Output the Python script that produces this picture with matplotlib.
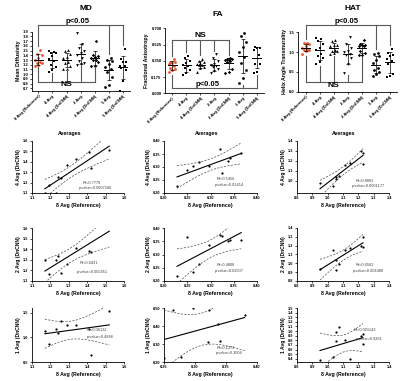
import numpy as np
import matplotlib
matplotlib.use('Agg')
import matplotlib.pyplot as plt

plt.rcParams['font.family'] = ['Liberation Sans', 'DejaVu Sans']

groups = ['8 Avg (Reference)', '4 Avg', '4 Avg (DnCNN)', '2 Avg', '2 Avg (DnCNN)', '1 Avg', '1 Avg (DnCNN)']

# ---- MD ----
md_ref = [1.17, 1.19, 1.23, 1.24, 1.26, 1.29, 1.34, 1.41, 1.42, 1.52]
md_4 = [1.50, 1.48, 1.45, 1.44, 1.38, 1.32, 1.27, 1.20, 1.15, 1.08, 1.05]
md_4dn = [1.10, 1.18, 1.10, 1.25, 1.24, 1.37, 1.43, 1.49, 1.34, 1.51]
md_2 = [1.87, 1.64, 1.56, 1.50, 1.45, 1.40, 1.35, 1.28, 1.24, 1.20, 1.22]
md_2dn = [1.30, 1.17, 1.30, 1.34, 1.18, 1.26, 1.41, 1.38, 1.37, 1.70]
md_1 = [1.35, 1.30, 1.28, 1.22, 1.15, 1.10, 1.05, 0.95, 0.78, 0.72]
md_1dn = [1.13, 0.86, 1.18, 1.09, 1.33, 1.25, 1.26, 1.18, 0.65, 1.53]

# ---- FA ----
fa_ref = [0.228, 0.250, 0.263, 0.276, 0.297, 0.320, 0.325, 0.338, 0.342, 0.366]
fa_4 = [0.40, 0.38, 0.35, 0.33, 0.31, 0.29, 0.27, 0.25, 0.22, 0.20]
fa_4dn = [0.225, 0.288, 0.303, 0.319, 0.304, 0.369, 0.275, 0.323, 0.335, 0.353]
fa_2 = [0.42, 0.38, 0.35, 0.32, 0.30, 0.29, 0.28, 0.26, 0.24, 0.22]
fa_2dn = [0.219, 0.366, 0.234, 0.263, 0.334, 0.375, 0.371, 0.350, 0.354, 0.356]
fa_1 = [0.646, 0.617, 0.556, 0.50, 0.45, 0.395, 0.323, 0.25, 0.16, 0.115]
fa_x_1dn = [0.250, 0.264, 0.278, 0.297, 0.323, 0.321, 0.337, 0.341, 0.380]
fa_1dn = [0.223, 0.490, 0.228, 0.500, 0.490, 0.313, 0.410, 0.315, 0.463]

# ---- HAT ----
hat_ref = [0.95, 1.035, 1.057, 1.057, 1.074, 1.115, 1.143, 1.215, 1.23, 1.23]
hat_4 = [1.35, 1.32, 1.28, 1.20, 1.10, 1.05, 0.95, 0.90, 0.85, 0.75, 0.70]
hat_4dn = [0.98, 0.95, 1.02, 1.04, 1.05, 1.16, 1.18, 1.30, 1.285, 1.17]
hat_2 = [1.38, 1.20, 1.10, 1.02, 1.00, 0.95, 0.92, 0.85, 0.70, 0.47]
hat_2dn = [0.932, 1.148, 1.04, 0.92, 0.988, 1.152, 1.172, 1.192, 1.30, 1.18]
hat_1 = [0.98, 0.95, 0.90, 0.80, 0.72, 0.60, 0.55, 0.50, 0.45, 0.40]
hat_1dn = [0.38, 0.435, 0.97, 0.78, 1.08, 0.815, 0.385, 0.90, 0.71, 0.93]

stats = {
    'MD': [('R²=0.7779', 'p-value=0.0007346'), ('R²=0.6431', 'p-value=0.005451'), ('R²=0.06132', 'p-value=0.4898')],
    'FA': [('R²=0.5456', 'p-value=0.01414'), ('R²=0.4808', 'p-value=0.02507'), ('R²=0.1373', 'p-value=0.3004')],
    'HAT': [('R²=0.8881', 'p-value=0.0001177'), ('R²=0.6562', 'p-value=0.004488'), ('R²=0.001143', 'p-value=0.9261')],
}

W, H = 400, 381
fig = plt.figure(figsize=(W / 100, H / 100), dpi=100)


def box(l, t, r, b):
    return [l / W, 1 - b / H, (r - l) / W, (b - t) / H]


def style(ax, fs=3.0):
    for s in ['top', 'right']:
        ax.spines[s].set_visible(False)
    for s in ['left', 'bottom']:
        ax.spines[s].set_linewidth(0.6)
    ax.tick_params(length=1.5, width=0.5, pad=1, labelsize=fs)
    for lab in ax.get_xticklabels() + ax.get_yticklabels():
        lab.set_fontweight('bold')


markers = ['o', 's', '^', 'v', 'D', 'o', 's']
jit = [-0.24, 0.0, 0.24, -0.12, 0.12]


def strip(ax, data, ylim, yticks, yfmt, ylabel, xlim):
    for i, vals in enumerate(data):
        vals = np.array(vals)
        order = np.argsort(vals)
        xs = np.zeros(len(vals))
        for k, idx in enumerate(order):
            xs[idx] = i + jit[k % len(jit)]
        col = '#e8502a' if i == 0 else 'black'
        ms = 2.0 if markers[i] != 'D' else 1.7
        ax.plot(xs, vals, ls='none', marker=markers[i], color=col, ms=ms, mew=0)
        m, sd = vals.mean(), vals.std(ddof=1)
        ax.plot([i - 0.32, i + 0.32], [m, m], color='black', lw=0.7)
        ax.errorbar(i, m, yerr=sd, color='black', lw=0.5, capsize=1.6, capthick=0.5)
    ax.set_xlim(*xlim)
    ax.set_ylim(*ylim)
    ax.set_yticks(yticks)
    ax.set_yticklabels([yfmt % t for t in yticks])
    ax.set_xticks(range(len(groups)))
    ax.set_xticklabels(groups, rotation=45, ha='right', rotation_mode='anchor')
    ax.set_ylabel(ylabel, fontsize=3.8, fontweight='bold', labelpad=1.5)
    style(ax, 3.0)


def bracket(ax, data, idx, y, top, gap, text, ty, tx, fs):
    # top=True: drops go down to just above each group's max
    c = '0.35'
    ax.plot([idx[0], idx[-1]], [y, y], color=c, lw=0.8, clip_on=False)
    for i in idx:
        v = np.array(data[i])
        end = v.max() + gap if top else v.min() - gap
        ax.plot([i, i], [y, end], color=c, lw=0.8, clip_on=False)
    ax.text(tx, ty, text, ha='center', va='center', fontsize=fs, fontweight='bold', clip_on=False)


# top row
md_data = [md_ref, md_4, md_4dn, md_2, md_2dn, md_1, md_1dn]
fa_data = [fa_ref, fa_4, fa_4dn, fa_2, fa_2dn, fa_1, fa_1dn]
hat_data = [hat_ref, hat_4, hat_4dn, hat_2, hat_2dn, hat_1, hat_1dn]

ax = fig.add_axes(box(32, 31.7, 130, 90.7))
strip(ax, md_data, (0.65, 1.9), np.arange(0.7, 1.91, 0.1), '%.1f', 'Mean Diffusivity', (-0.45, 6.5))
bracket(ax, md_data, [0, 5, 6], 2.04, True, 0.08, 'p<0.05', 2.11, 2.8, 5.5)
bracket(ax, md_data, [0, 1, 2, 3, 4], 0.84, False, 0.015, 'NS', 0.78, 2.0, 6)

ax = fig.add_axes(box(165, 28.3, 264, 93.3))
strip(ax, fa_data, (0, 0.7), [0, 0.175, 0.35, 0.525, 0.7], '%.3f', 'Fractional Anisotropy', (-0.5, 6.5))
bracket(ax, fa_data, [0, 1, 2, 3, 4], 0.574, True, 0.04, 'NS', 0.625, 2.0, 6)
bracket(ax, fa_data, [0, 5, 6], 0.054, False, 0.03, 'p<0.05', 0.10, 2.5, 5.5)

ax = fig.add_axes(box(298, 32.3, 397, 91.7))
strip(ax, hat_data, (0, 1.5), [0, 0.5, 1.0, 1.5], '%.1f', 'Helix Angle Transmurality', (-0.55, 6.5))
bracket(ax, hat_data, [0, 5, 6], 1.685, True, 0.1, 'p<0.05', 1.77, 2.9, 5.5)
bracket(ax, hat_data, [0, 1, 2, 3, 4], 0.253, False, 0.04, 'NS', 0.16, 2.0, 6)

fig.text(86 / W, 1 - 8 / H, 'MD', ha='center', va='center', fontsize=6, fontweight='bold')
fig.text(218 / W, 1 - 14 / H, 'FA', ha='center', va='center', fontsize=6, fontweight='bold')
fig.text(353 / W, 1 - 8 / H, 'HAT', ha='center', va='center', fontsize=6, fontweight='bold')
for x in [70, 207, 344]:
    fig.text(x / W, 1 - 134 / H, 'Averages', ha='center', va='center', fontsize=3.8, fontweight='bold')

# scatter / regression rows
tval = {7: 2.365, 8: 2.306, 9: 2.262}


def regress(ax, x, y, txt, tpos):
    x = np.array(x)
    y = np.array(y)
    n = len(x)
    b, a = np.polyfit(x, y, 1)
    res = y - (a + b * x)
    s = np.sqrt((res ** 2).sum() / (n - 2))
    sxx = ((x - x.mean()) ** 2).sum()
    xx = np.linspace(x.min(), x.max(), 60)
    yy = a + b * xx
    half = tval[n - 2] * s * np.sqrt(1 / n + (xx - x.mean()) ** 2 / sxx)
    ax.plot(x, y, 'o', color='black', ms=1.6, mew=0)
    ax.plot(xx, yy, color='black', lw=0.8)
    ax.plot(xx, yy + half, color='0.3', lw=0.5, dashes=(3, 2))
    ax.plot(xx, yy - half, color='0.3', lw=0.5, dashes=(3, 2))
    ax.text(tpos[0], tpos[1], txt[0], transform=ax.transAxes, fontsize=2.8, ha='center', va='center', color='0.25')
    ax.text(tpos[0] + 0.04, tpos[2], txt[1], transform=ax.transAxes, fontsize=2.8, ha='center', va='center', color='0.25')


cols = [(32, 124), (164, 257), (297, 389)]
rows = [(141, 193), (228, 281), (308, 362)]
ylabels = ['4 Avg (DnCNN)', '2 Avg (DnCNN)', '1 Avg (DnCNN)']

panels = {
    'MD': dict(x=[md_ref, md_ref, md_ref], y=[md_4dn, md_2dn, md_1dn],
               xlim=[(1.1, 1.6)] * 3, xt=[np.arange(1.1, 1.61, 0.1)] * 3, xf='%.1f',
               ylim=[(1.1, 1.6), (1.1, 1.6), (0.5, 1.6)],
               yt=[np.arange(1.1, 1.61, 0.1), np.arange(1.1, 1.61, 0.1), [0.5, 1.0, 1.5]], yf='%.1f',
               tpos=[(0.65, 0.2, 0.1), (0.62, 0.34, 0.17), (0.7, 0.59, 0.46)]),
    'FA': dict(x=[fa_ref, fa_ref, fa_x_1dn], y=[fa_4dn, fa_2dn, fa_1dn],
               xlim=[(0.2, 0.4), (0.2, 0.4), (0.25, 0.4)],
               xt=[np.arange(0.2, 0.41, 0.05), np.arange(0.2, 0.41, 0.05), np.arange(0.25, 0.41, 0.05)], xf='%.2f',
               ylim=[(0.2, 0.4), (0.2, 0.4), (0.2, 0.5)],
               yt=[np.arange(0.2, 0.41, 0.05), np.arange(0.2, 0.41, 0.05), np.arange(0.2, 0.51, 0.1)], yf='%.2f',
               tpos=[(0.66, 0.26, 0.15), (0.66, 0.3, 0.19), (0.66, 0.26, 0.17)]),
    'HAT': dict(x=[hat_ref, hat_ref, hat_ref], y=[hat_4dn, hat_2dn, hat_1dn],
                xlim=[(0.8, 1.4)] * 3, xt=[np.arange(0.8, 1.41, 0.1)] * 3, xf='%.1f',
                ylim=[(0.88, 1.4), (0.8, 1.4), (0.33, 1.5)],
                yt=[np.arange(1.0, 1.41, 0.1), np.arange(0.8, 1.41, 0.1), np.arange(0.4, 1.51, 0.1)], yf='%.1f',
                tpos=[(0.74, 0.23, 0.14), (0.74, 0.3, 0.18), (0.74, 0.6, 0.43)]),
}

for c, key in enumerate(['MD', 'FA', 'HAT']):
    p = panels[key]
    for r in range(3):
        ax = fig.add_axes(box(cols[c][0], rows[r][0], cols[c][1], rows[r][1]))
        regress(ax, p['x'][r], p['y'][r], stats[key][r], p['tpos'][r])
        ax.set_xlim(*p['xlim'][r])
        ax.set_ylim(*p['ylim'][r])
        ax.set_xticks(p['xt'][r])
        ax.set_xticklabels([p['xf'] % t for t in p['xt'][r]])
        ax.set_yticks(p['yt'][r])
        ax.set_yticklabels([p['yf'] % t for t in p['yt'][r]])
        ax.set_xlabel('8 Avg (Reference)', fontsize=3.8, fontweight='bold', labelpad=1.5)
        ax.set_ylabel(ylabels[r], fontsize=3.6, fontweight='bold', labelpad=1.5)
        style(ax, 2.8)

fig.savefig('out.png', dpi=100)
